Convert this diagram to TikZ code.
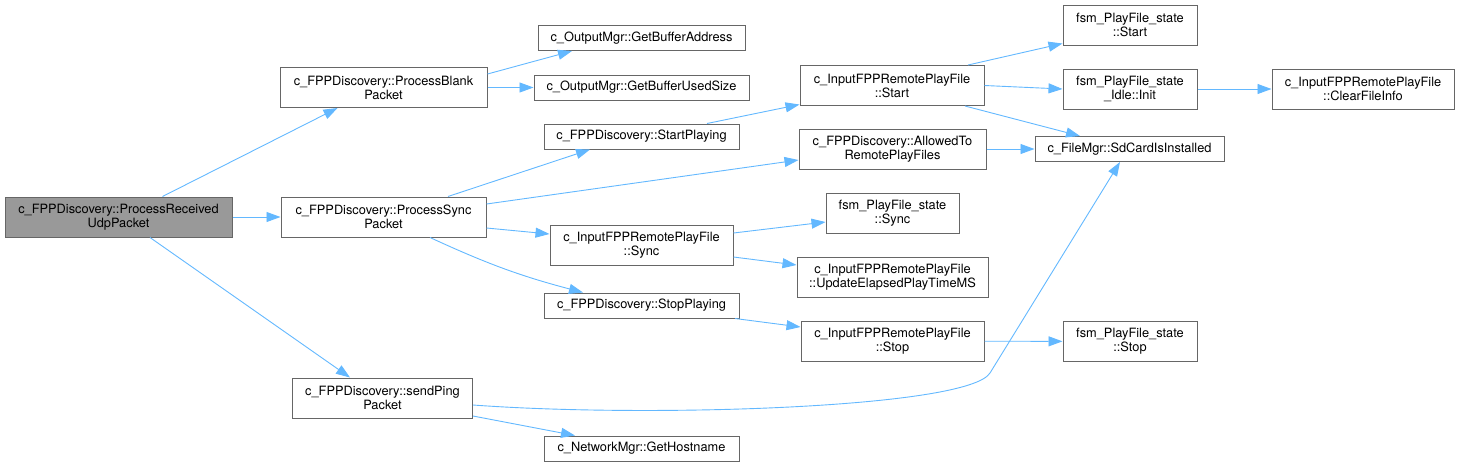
\documentclass[tikz,border=0pt]{standalone}
\usepackage{fontspec}
\setmainfont{TeX Gyre Heros}
\usepackage{tikz}
\usetikzlibrary{arrows.meta,positioning,calc}
\usepackage{xcolor}
\definecolor{edgeblue}{HTML}{63B8FF}
\definecolor{boxgray}{HTML}{666666}
\definecolor{rootgray}{HTML}{999999}

\begin{document}
\begin{tikzpicture}[x=1pt, y=-1pt, >={Triangle[length=14pt, width=10pt]},
  fnbox/.style={draw=boxgray, fill=white, line width=1pt, inner sep=0pt, align=center,
    font=\fontsize{12.8}{14}\selectfont},
  rootbox/.style={fnbox, fill=rootgray},
  call/.style={->, draw=edgeblue, line width=0.9pt}]
  \useasboundingbox (0,0) rectangle (1460,467);

  \node[rootbox, minimum width=227pt, minimum height=40pt] (rcv) at (118.5,217) {c\_FPPDiscovery::ProcessReceived\\UdpPacket};
  \node[fnbox, minimum width=207pt, minimum height=40pt] (blank) at (383.5,87.5) {c\_FPPDiscovery::ProcessBlank\\Packet};
  \node[fnbox, minimum width=205pt, minimum height=40pt] (sync) at (383.5,217) {c\_FPPDiscovery::ProcessSync\\Packet};
  \node[fnbox, minimum width=180pt, minimum height=40pt] (ping) at (382.5,398) {c\_FPPDiscovery::sendPing\\Packet};

  \node[fnbox, minimum width=207pt, minimum height=25pt] (bufaddr) at (641.5,38) {c\_OutputMgr::GetBufferAddress};
  \node[fnbox, minimum width=215pt, minimum height=25pt] (bufsize) at (641.5,87.5) {c\_OutputMgr::GetBufferUsedSize};
  \node[fnbox, minimum width=195pt, minimum height=25pt] (startpl) at (641.5,136.5) {c\_FPPDiscovery::StartPlaying};
  \node[fnbox, minimum width=183pt, minimum height=40pt] (ifsync) at (641.5,245) {c\_InputFPPRemotePlayFile\\::Sync};
  \node[fnbox, minimum width=195pt, minimum height=25pt] (stoppl) at (641.5,305.5) {c\_FPPDiscovery::StopPlaying};
  \node[fnbox, minimum width=195pt, minimum height=25pt] (hostname) at (641.5,448.5) {c\_NetworkMgr::GetHostname};

  \node[fnbox, minimum width=184pt, minimum height=40pt] (ifstart) at (892,85.5) {c\_InputFPPRemotePlayFile\\::Start};
  \node[fnbox, minimum width=187pt, minimum height=40pt] (allowed) at (892.5,149) {c\_FPPDiscovery::AllowedTo\\RemotePlayFiles};
  \node[fnbox, minimum width=133pt, minimum height=40pt] (fsmsync) at (892.5,213) {fsm\_PlayFile\_state\\::Sync};
  \node[fnbox, minimum width=191pt, minimum height=40pt] (elapsed) at (892.5,277) {c\_InputFPPRemotePlayFile\\::UpdateElapsedPlayTimeMS};
  \node[fnbox, minimum width=183pt, minimum height=40pt] (ifstop) at (892.5,341) {c\_InputFPPRemotePlayFile\\::Stop};

  \node[fnbox, minimum width=134pt, minimum height=40pt] (fsmstart) at (1130,25) {fsm\_PlayFile\_state\\::Start};
  \node[fnbox, minimum width=134pt, minimum height=40pt] (idleinit) at (1130,89) {fsm\_PlayFile\_state\\\_Idle::Init};
  \node[fnbox, minimum width=189pt, minimum height=25pt] (sdcard) at (1129.5,149) {c\_FileMgr::SdCardIsInstalled};
  \node[fnbox, minimum width=134pt, minimum height=40pt] (fsmstop) at (1130,341.5) {fsm\_PlayFile\_state\\::Stop};
  \node[fnbox, minimum width=182pt, minimum height=40pt] (clrinfo) at (1363,89) {c\_InputFPPRemotePlayFile\\::ClearFileInfo};

  \draw[call] ([xshift=44pt]rcv.north) -- ([xshift=-46pt]blank.south);
  \draw[call] (rcv) -- (sync);
  \draw[call] ([xshift=31.5pt]rcv.south) -- ([xshift=-32.5pt]ping.north);

  \draw[call] ([yshift=13.5pt]blank.east) -- ([xshift=-69.5pt]bufaddr.south);
  \draw[call] (blank) -- (bufsize);

  \draw[call] ([xshift=64.5pt]sync.north) -- ([xshift=-51.5pt]startpl.south);
  \draw[call] ([yshift=13pt]sync.east) -- ([yshift=-11pt]allowed.west);
  \draw[call] ([yshift=-11pt]sync.east) -- ([yshift=11pt]ifsync.west);
  \draw[call] ([xshift=46.5pt]sync.south) to[bend right=5] ([xshift=-58.5pt]stoppl.north);

  \draw[call] ([xshift=65.5pt]startpl.north) -- ([yshift=1.5pt]ifstart.south west);
  \draw[call] ([xshift=76pt]ifstart.north) -- ([yshift=2pt]fsmstart.south west);
  \draw[call] (ifstart.east) -- (idleinit.west);
  \draw[call] ([xshift=73pt]ifstart.south) -- ([xshift=-49.5pt]sdcard.north);
  \draw[call] (idleinit) -- (clrinfo);
  \draw[call] (allowed) -- (sdcard);

  \draw[call] ([yshift=12pt]ifsync.east) -- ([yshift=-9pt]fsmsync.west);
  \draw[call] ([yshift=-12pt]ifsync.east) -- ([yshift=12pt]elapsed.west);
  \draw[call] ([xshift=93.5pt]stoppl.south) -- ([yshift=14pt]ifstop.west);
  \draw[call] (ifstop) -- (fsmstop);

  \draw[call] ([yshift=-7pt]ping.east) .. controls (650,418) and (968,408) .. (990,373) -- ([xshift=-9.5pt]sdcard.south);
  \draw[call] ([yshift=-18pt]ping.east) -- ([xshift=-66.5pt]hostname.north);
\end{tikzpicture}
\end{document}
